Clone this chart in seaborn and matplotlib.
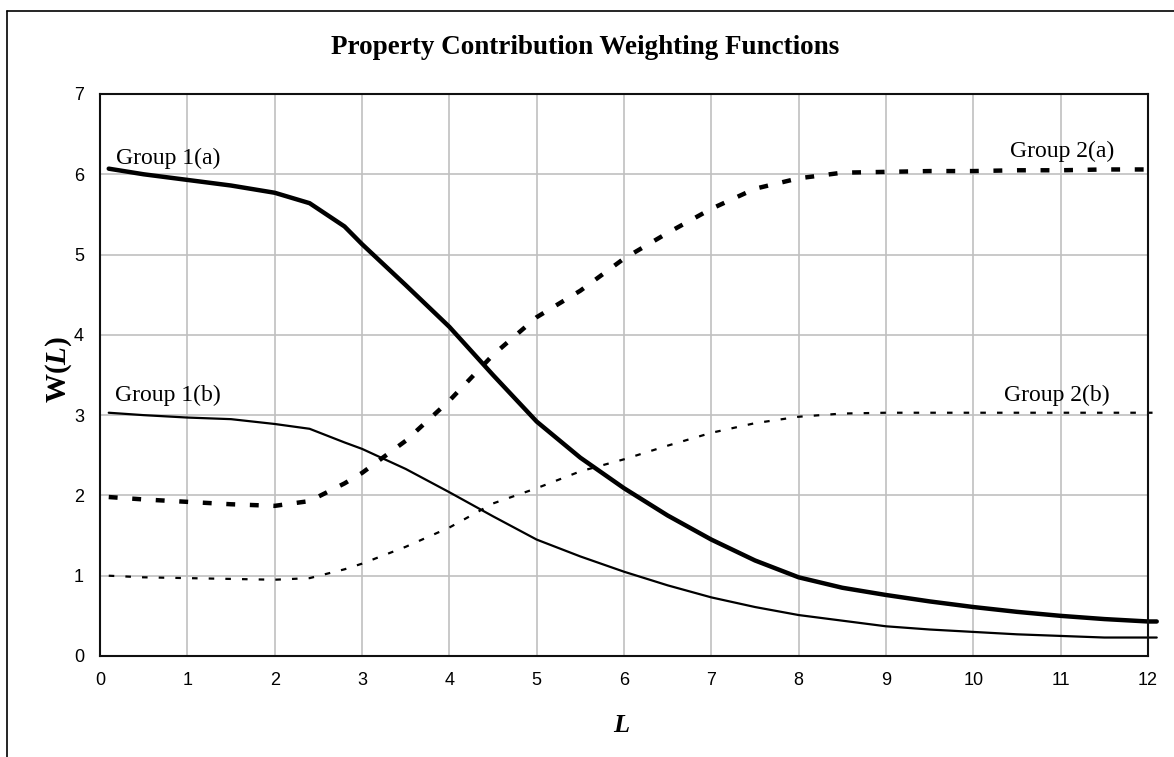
import matplotlib
matplotlib.use('Agg')
import matplotlib.pyplot as plt
import seaborn as sns
from matplotlib.lines import Line2D

# Dados
L = [0.1, 0.5, 1, 1.5, 2, 2.4, 2.8, 3, 3.5, 4, 4.5, 5, 5.5, 6, 6.5, 7,
     7.5, 8, 8.5, 9, 9.5, 10, 10.5, 11, 11.5, 12, 12.1]
group_1a = [6.07, 6.00, 5.93, 5.86, 5.77, 5.64, 5.35, 5.13, 4.62, 4.10, 3.50,
            2.92, 2.47, 2.09, 1.75, 1.45, 1.19, 0.98, 0.85, 0.76, 0.68, 0.61,
            0.55, 0.50, 0.46, 0.43, 0.43]
group_1b = [3.03, 3.00, 2.97, 2.95, 2.89, 2.83, 2.66, 2.58, 2.33, 2.04, 1.74,
            1.45, 1.24, 1.05, 0.88, 0.73, 0.61, 0.51, 0.44, 0.37, 0.33, 0.30,
            0.27, 0.25, 0.23, 0.23, 0.23]
group_2a = [1.98, 1.95, 1.92, 1.89, 1.87, 1.93, 2.15, 2.28, 2.68, 3.18, 3.75,
            4.22, 4.55, 4.95, 5.27, 5.57, 5.82, 5.95, 6.02, 6.03, 6.04, 6.04,
            6.05, 6.05, 6.06, 6.06, 6.06]
group_2b = [1.00, 0.98, 0.97, 0.96, 0.95, 0.97, 1.08, 1.15, 1.36, 1.60, 1.90,
            2.09, 2.30, 2.45, 2.62, 2.78, 2.90, 2.98, 3.02, 3.03, 3.03, 3.03,
            3.03, 3.03, 3.03, 3.03, 3.03]

labels = ['Group 1(a)', 'Group 1(b)', 'Group 2(a)', 'Group 2(b)']
label_pos = [(0.18, 6.2), (0.17, 3.25), (10.42, 6.28), (10.35, 3.24)]

sns.set_style('white')
plt.rcParams['font.family'] = ['Liberation Serif', 'DejaVu Serif']
plt.rcParams['text.color'] = 'black'
plt.rcParams['axes.labelcolor'] = 'black'
plt.rcParams['xtick.color'] = 'black'
plt.rcParams['ytick.color'] = 'black'
plt.rcParams['mathtext.fontset'] = 'custom'
plt.rcParams['mathtext.rm'] = 'Liberation Serif'
plt.rcParams['mathtext.bf'] = 'Liberation Serif:bold'
plt.rcParams['mathtext.it'] = 'Liberation Serif:italic'
plt.rcParams['mathtext.bfit'] = 'Liberation Serif:bold:italic'

fig = plt.figure(figsize=(11.74, 7.57), dpi=100)
ax = fig.add_axes([100 / 1174, 101 / 757, 1048 / 1174, 562 / 757])

sns.lineplot(x=L, y=group_1a, ax=ax, color='black', linewidth=3.2, clip_on=False)
sns.lineplot(x=L, y=group_1b, ax=ax, color='black', linewidth=1.6, clip_on=False)
sns.lineplot(x=L, y=group_2a, ax=ax, color='black', linewidth=3.2,
             linestyle=(0, (2, 3.3)), clip_on=False)
sns.lineplot(x=L, y=group_2b, ax=ax, color='black', linewidth=1.6,
             linestyle=(0, (2.5, 5)), clip_on=False)

for txt, (px, py) in zip(labels, label_pos):
    ax.text(px, py, txt, fontsize=17, ha='left', va='center', color='black')

ax.set_xlim(0, 12)
ax.set_ylim(0, 7)
ax.set_xticks(range(0, 13))
ax.set_yticks(range(0, 8))
ax.grid(True, color='#c0c0c0', linewidth=1.2)
ax.set_axisbelow(True)
for s in ax.spines.values():
    s.set_visible(True)
    s.set_color('#101010')
    s.set_linewidth(1.5)
ax.tick_params(direction='inout', length=7, width=1.2, color='#101010',
               labelsize=13, labelfontfamily='Liberation Sans')
ax.tick_params(axis='x', pad=8)
ax.tick_params(axis='y', pad=8)

ax.set_xlabel(r'$\mathbfit{L}$', fontsize=19)
ax.xaxis.set_label_coords(0.498, -0.105)
ax.set_ylabel(r'$\mathbf{W(}\mathbfit{L}\mathbf{)}$', fontsize=21)
ax.yaxis.set_label_coords(-0.025, 0.509)

fig.suptitle('Property Contribution Weighting Functions', x=585 / 1174,
             y=1 - 47 / 757, va='center', fontsize=19.5, fontweight='bold')

# moldura externa (topo e esquerda)
fig.add_artist(Line2D([7 / 1174, 1], [1 - 11 / 757, 1 - 11 / 757],
                      transform=fig.transFigure, color='black', linewidth=1.2))
fig.add_artist(Line2D([7 / 1174, 7 / 1174], [0, 1 - 11 / 757],
                      transform=fig.transFigure, color='black', linewidth=1.2))

fig.savefig('out.png', dpi=100)
